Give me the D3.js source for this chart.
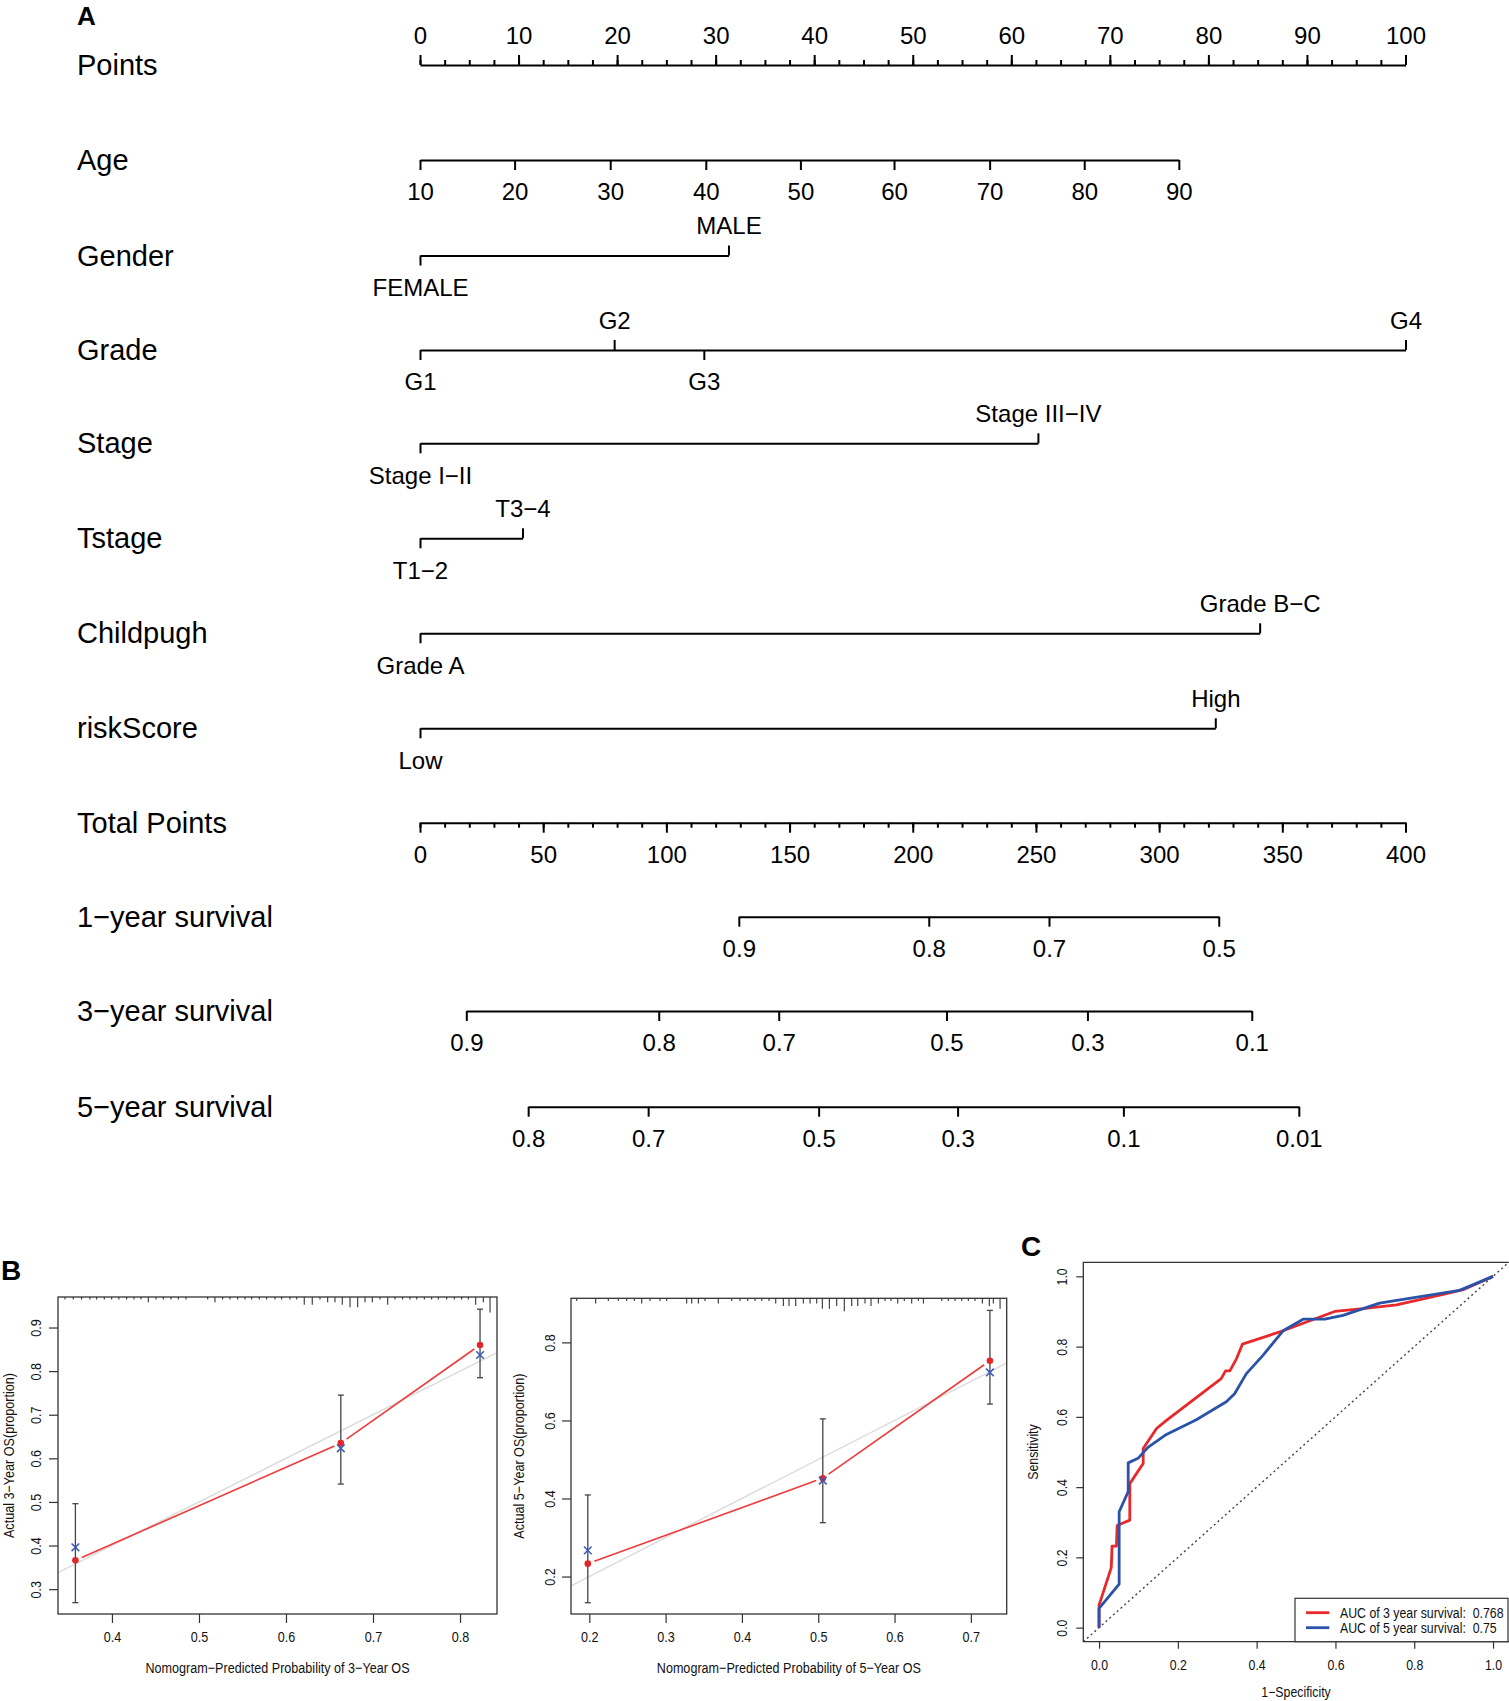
<!DOCTYPE html>
<html>
<head>
<meta charset="utf-8">
<script src="https://d3js.org/d3.v7.min.js"></script>
<style>
  body { margin: 0; background: #fff; }
  svg { font-family: "Liberation Sans", Arial, Helvetica, sans-serif; }
</style>
</head>
<body>
<div id="chart"></div>
<script>
// ---------- Panel A: nomogram data ----------
var rowNames = ["Points", "Age", "Gender", "Grade", "Stage", "Tstage", "Childpugh", "riskScore",
                "Total Points", "1\u2212year survival", "3\u2212year survival", "5\u2212year survival"];

var ageTicks  = [10, 20, 30, 40, 50, 60, 70, 80, 90];
var agePoints = [0, 9.6, 19.3, 29.0, 38.6, 48.1, 57.8, 67.4, 77.0];

var genderLevels = ["FEMALE", "MALE"];
var genderPoints = [0, 31.3];
var gradeLevels  = ["G1", "G2", "G3", "G4"];
var gradePoints  = [0, 19.7, 28.8, 100];
var stageLevels  = ["Stage I\u2212II", "Stage III\u2212IV"];
var stagePoints  = [0, 62.7];
var tstageLevels = ["T1\u22122", "T3\u22124"];
var tstagePoints = [0, 10.4];
var childLevels  = ["Grade A", "Grade B\u2212C"];
var childPoints  = [0, 85.2];
var riskLevels   = ["Low", "High"];
var riskPoints   = [0, 80.7];

var surv1Labels = ["0.9", "0.8", "0.7", "0.5"];
var surv1Total  = [129.4, 206.5, 255.3, 324.2];
var surv3Labels = ["0.9", "0.8", "0.7", "0.5", "0.3", "0.1"];
var surv3Total  = [18.8, 96.9, 145.6, 213.7, 270.9, 337.6];
var surv5Labels = ["0.8", "0.7", "0.5", "0.3", "0.1", "0.01"];
var surv5Total  = [43.9, 92.6, 161.8, 218.2, 285.5, 356.7];

// ---------- Panel B: calibration data ----------
var cal3Pred   = [0.358, 0.663, 0.823];
var cal3Obs    = [0.366, 0.635, 0.860];
var cal3Corr   = [0.396, 0.623, 0.837];
var cal3Lo     = [0.269, 0.541, 0.785];
var cal3Hi     = [0.496, 0.745, 0.942];
var rug3Pred   = [0.346, 0.3555, 0.3651, 0.3747, 0.3824, 0.3912, 0.3997, 0.408, 0.4169, 0.4253, 0.4333, 0.4418,
                  0.4506, 0.459, 0.4678, 0.4762, 0.4851, 0.51, 0.5184, 0.5272, 0.5356, 0.5445, 0.5529, 0.5606,
                  0.5693, 0.5778, 0.5874, 0.595, 0.6046, 0.6123, 0.621, 0.6302, 0.6391, 0.6479, 0.6563, 0.6647,
                  0.6736, 0.6824, 0.6908, 0.6992, 0.708, 0.7169, 0.7253, 0.7341, 0.7425, 0.7502, 0.759, 0.7674,
                  0.7751, 0.7847, 0.7934, 0.8019, 0.8095, 0.818, 0.8268, 0.8345];
var rug3Count  = [1, 1, 1, 1, 1, 1, 1, 1, 1, 1, 1, 2,
                  1, 1, 1, 1, 1, 1, 2, 1, 1, 1, 1, 1,
                  1, 1, 1, 1, 1, 1, 3, 3, 1, 2, 2, 3,
                  4, 4, 2, 2, 1, 3, 1, 1, 1, 1, 1, 1,
                  1, 1, 1, 1, 1, 3, 2, 6];

var cal5Pred   = [0.198, 0.506, 0.725];
var cal5Obs    = [0.233, 0.452, 0.753];
var cal5Corr   = [0.267, 0.446, 0.723];
var cal5Lo     = [0.133, 0.338, 0.642];
var cal5Hi     = [0.409, 0.604, 0.882];
var rug5Pred   = [0.1835, 0.2083, 0.2249, 0.238, 0.249, 0.259, 0.2687, 0.2796, 0.2927, 0.3014, 0.3276, 0.3342,
                  0.3429, 0.3516, 0.369, 0.3866, 0.3975, 0.4076, 0.4172, 0.426, 0.4355, 0.4443, 0.4543, 0.4617,
                  0.4705, 0.4805, 0.4893, 0.498, 0.5054, 0.5146, 0.5242, 0.5342, 0.5439, 0.5518, 0.5613, 0.5692,
                  0.5788, 0.5875, 0.5954, 0.6042, 0.6128, 0.6225, 0.6312, 0.6378, 0.6619, 0.6705, 0.6793, 0.6881,
                  0.6967, 0.7055, 0.7151, 0.7242, 0.7295, 0.7383];
var rug5Count  = [1, 2, 1, 1, 1, 1, 2, 1, 1, 1, 2, 2,
                  2, 1, 2, 1, 1, 1, 1, 1, 1, 2, 3, 3,
                  3, 2, 2, 2, 4, 4, 3, 5, 3, 3, 2, 3,
                  2, 1, 1, 2, 1, 2, 1, 2, 1, 1, 1, 1,
                  1, 1, 2, 3, 2, 4];

// ---------- Panel C: ROC data ----------
var fpr3 = [0, 0, 0.031, 0.033, 0.044, 0.046, 0.078, 0.078, 0.112, 0.112, 0.146, 0.171, 0.31, 0.321, 0.332,
            0.349, 0.364, 0.467, 0.598, 0.67, 0.755, 0.882, 0.924, 1];
var tpr3 = [0, 0.064, 0.171, 0.232, 0.232, 0.291, 0.306, 0.41, 0.467, 0.51, 0.567, 0.59, 0.709, 0.731, 0.731,
            0.766, 0.807, 0.845, 0.9, 0.908, 0.919, 0.951, 0.962, 1];
var fpr5 = [0, 0, 0.051, 0.051, 0.074, 0.074, 0.099, 0.124, 0.171, 0.247, 0.323, 0.344, 0.374, 0.416, 0.467,
            0.518, 0.573, 0.619, 0.712, 0.915, 1];
var tpr5 = [0, 0.055, 0.124, 0.33, 0.387, 0.469, 0.482, 0.513, 0.55, 0.592, 0.643, 0.666, 0.723, 0.775, 0.845,
            0.878, 0.878, 0.889, 0.924, 0.96, 1];
var aucLabels = ["AUC of 3 year survival:  0.768", "AUC of 5 year survival:  0.75"];

// ---------- setup ----------
var W = 1509, H = 1701;
var svg = d3.select("#chart").append("svg")
  .attr("width", W).attr("height", H)
  .style("display", "block");
svg.append("rect").attr("width", W).attr("height", H).attr("fill", "#fff");

// the lower panels use a horizontally squeezed font, like the source image
function squish(sel, sx) {
  sel.each(function() {
    var t = d3.select(this);
    var x = +t.attr("x") || 0, y = +t.attr("y") || 0;
    var pre = t.attr("transform") || "";
    t.attr("x", 0).attr("y", 0)
      .attr("transform", pre + " translate(" + x + "," + y + ") scale(" + sx + ",1)");
  });
}

// ---------- Panel A ----------
var rowY = [65, 160, 255.5, 350, 443.3, 538.3, 633.3, 728.3, 822.7, 916.7, 1011, 1106.7];
var xPts = d3.scaleLinear().domain([0, 100]).range([420, 1405.5]);
var xTot = d3.scaleLinear().domain([0, 400]).range([420, 1405.5]);

function styleNomo(g) {
  g.attr("font-size", null).attr("font-family", null);
  g.selectAll("text").attr("font-size", 24).attr("fill", "#000");
  g.selectAll("line, path").attr("stroke", "#000").attr("stroke-width", 2);
}

svg.append("text").attr("x", 77).attr("y", 16).attr("dy", "0.35em")
  .attr("font-size", 26).attr("font-weight", "bold").text("A");

svg.selectAll(".rowlab").data(rowNames).enter().append("text")
  .attr("class", "rowlab")
  .attr("x", 77)
  .attr("y", function(d, i) { return rowY[i]; })
  .attr("dy", "0.35em")
  .attr("font-size", 29)
  .text(function(d) { return d; });

// Points
var gP = svg.append("g").attr("transform", "translate(0," + rowY[0] + ")")
  .call(d3.axisTop(xPts).tickValues(d3.range(0, 101, 10)).tickSize(10).tickSizeOuter(0).tickPadding(11.4));
styleNomo(gP);
var gPm = svg.append("g").attr("transform", "translate(0," + rowY[0] + ")")
  .call(d3.axisTop(xPts).tickValues(d3.range(0, 100.1, 2.5)).tickSize(5).tickSizeOuter(0).tickFormat(""));
gPm.select(".domain").remove();
styleNomo(gPm);

// Age
var ageScale = d3.scaleLinear().domain(ageTicks).range(agePoints.map(function(p) { return xPts(p); }));
var gA = svg.append("g").attr("transform", "translate(0," + rowY[1] + ")")
  .call(d3.axisBottom(ageScale).tickValues(ageTicks).tickSize(10).tickSizeOuter(0).tickPadding(13.3));
styleNomo(gA);

// categorical rows: first level below the line, then alternating
function catRow(y, levels, pts) {
  var maxP = d3.max(pts);
  var sc = d3.scaleLinear().domain([0, maxP]).range([xPts(0), xPts(maxP)]);
  var lab = function(d) { return levels[pts.indexOf(d)]; };
  var below = pts.filter(function(p, i) { return i % 2 === 0; });
  var above = pts.filter(function(p, i) { return i % 2 === 1; });
  var gB = svg.append("g").attr("transform", "translate(0," + y + ")")
    .call(d3.axisBottom(sc).tickValues(below).tickFormat(lab).tickSize(10).tickSizeOuter(0).tickPadding(13.3));
  var gT = svg.append("g").attr("transform", "translate(0," + y + ")")
    .call(d3.axisTop(sc).tickValues(above).tickFormat(lab).tickSize(10).tickSizeOuter(0).tickPadding(11.4));
  gT.select(".domain").remove();
  styleNomo(gB); styleNomo(gT);
}
catRow(rowY[2], genderLevels, genderPoints);
catRow(rowY[3], gradeLevels, gradePoints);
catRow(rowY[4], stageLevels, stagePoints);
catRow(rowY[5], tstageLevels, tstagePoints);
catRow(rowY[6], childLevels, childPoints);
catRow(rowY[7], riskLevels, riskPoints);

// Total points
var gT1 = svg.append("g").attr("transform", "translate(0," + rowY[8] + ")")
  .call(d3.axisBottom(xTot).tickValues(d3.range(0, 401, 50)).tickSize(10).tickSizeOuter(0).tickPadding(13.3));
styleNomo(gT1);
var gT2 = svg.append("g").attr("transform", "translate(0," + rowY[8] + ")")
  .call(d3.axisBottom(xTot).tickValues(d3.range(0, 401, 10)).tickSize(5).tickSizeOuter(0).tickFormat(""));
gT2.select(".domain").remove();
styleNomo(gT2);

// survival rows
function survRow(y, labels, totals) {
  var ext = d3.extent(totals);
  var sc = d3.scaleLinear().domain(ext).range([xTot(ext[0]), xTot(ext[1])]);
  var g = svg.append("g").attr("transform", "translate(0," + y + ")")
    .call(d3.axisBottom(sc).tickValues(totals)
      .tickFormat(function(d) { return labels[totals.indexOf(d)]; })
      .tickSize(10).tickSizeOuter(0).tickPadding(13.3));
  styleNomo(g);
}
survRow(rowY[9], surv1Labels, surv1Total);
survRow(rowY[10], surv3Labels, surv3Total);
survRow(rowY[11], surv5Labels, surv5Total);

// ---------- Panel B ----------
svg.append("text").attr("x", 1).attr("y", 1270).attr("dy", "0.35em")
  .attr("font-size", 28).attr("font-weight", "bold").text("B");

var FS_B = 15, SX_B = 0.84;
var FS_C = 14.5, SX_C = 0.85;

function styleSmall(g, fs) {
  g.attr("font-size", null).attr("font-family", null);
  g.selectAll("text").attr("font-size", fs).attr("fill", "#111");
  g.selectAll("line").attr("stroke", "#333").attr("stroke-width", 1.2);
  g.select(".domain").remove();
}

function rotateLeftLabels(g, off) {
  g.selectAll(".tick text")
    .attr("x", 0).attr("y", -off).attr("dy", "0.35em")
    .attr("text-anchor", "middle")
    .attr("transform", "rotate(-90)");
}

function calPlot(cfg) {
  var x = d3.scaleLinear().domain(cfg.xDom).range([cfg.left, cfg.right]);
  var y = d3.scaleLinear().domain(cfg.yDom).range([cfg.bottom, cfg.top]);

  // ideal line
  var lo = Math.max(cfg.xDom[0], cfg.yDom[0]), hi = Math.min(cfg.xDom[1], cfg.yDom[1]);
  svg.append("line")
    .attr("x1", x(lo)).attr("y1", y(lo)).attr("x2", x(hi)).attr("y2", y(hi))
    .attr("stroke", "#dcdcdc").attr("stroke-width", 1.5);

  // rug of predicted values
  var rugH = d3.scaleLinear().domain([0, 6]).range([0, 15.5]);
  svg.append("g").selectAll("line").data(cfg.rug).enter().append("line")
    .attr("x1", function(d) { return x(d); }).attr("x2", function(d) { return x(d); })
    .attr("y1", cfg.top)
    .attr("y2", function(d, i) { return cfg.top + rugH(cfg.rugCount[i]); })
    .attr("stroke", "#333").attr("stroke-width", 1.1);

  // red observed line, broken around the points
  var gap = 7;
  var seg = svg.append("g");
  for (var i = 0; i < cfg.pred.length - 1; i++) {
    var x1 = x(cfg.pred[i]), y1 = y(cfg.obs[i]), x2 = x(cfg.pred[i + 1]), y2 = y(cfg.obs[i + 1]);
    var len = Math.hypot(x2 - x1, y2 - y1), ux = (x2 - x1) / len, uy = (y2 - y1) / len;
    seg.append("line")
      .attr("x1", x1 + ux * gap).attr("y1", y1 + uy * gap)
      .attr("x2", x2 - ux * gap).attr("y2", y2 - uy * gap)
      .attr("stroke", "#ef3b3b").attr("stroke-width", 1.6);
  }

  // error bars
  var eb = svg.append("g").attr("stroke", "#444").attr("stroke-width", 1.3);
  cfg.pred.forEach(function(p, i) {
    eb.append("line").attr("x1", x(p)).attr("x2", x(p)).attr("y1", y(cfg.lo[i])).attr("y2", y(cfg.hi[i]));
    eb.append("line").attr("x1", x(p) - 3).attr("x2", x(p) + 3).attr("y1", y(cfg.lo[i])).attr("y2", y(cfg.lo[i]));
    eb.append("line").attr("x1", x(p) - 3).attr("x2", x(p) + 3).attr("y1", y(cfg.hi[i])).attr("y2", y(cfg.hi[i]));
  });

  // points
  svg.append("g").selectAll("path").data(cfg.pred).enter().append("path")
    .attr("transform", function(d, i) { return "translate(" + x(d) + "," + y(cfg.obs[i]) + ")"; })
    .attr("d", d3.symbol(d3.symbolCircle, 34))
    .attr("fill", "#e3262b");
  svg.append("g").selectAll("path").data(cfg.pred).enter().append("path")
    .attr("transform", function(d, i) { return "translate(" + x(d) + "," + y(cfg.corr[i]) + ")"; })
    .attr("d", d3.symbol(d3.symbolTimes, 40))
    .attr("fill", "none").attr("stroke", "#3a5ab8").attr("stroke-width", 1.5);

  // box
  svg.append("rect")
    .attr("x", cfg.left).attr("y", cfg.top)
    .attr("width", cfg.right - cfg.left).attr("height", cfg.bottom - cfg.top)
    .attr("fill", "none").attr("stroke", "#333").attr("stroke-width", 1.3);

  // axes
  var gx = svg.append("g").attr("transform", "translate(0," + cfg.bottom + ")")
    .call(d3.axisBottom(x).tickValues(cfg.xTicks).tickFormat(d3.format(".1f")).tickSize(9).tickPadding(8.6));
  styleSmall(gx, FS_B);
  squish(gx.selectAll("text"), SX_B);
  var gy = svg.append("g").attr("transform", "translate(" + cfg.left + ",0)")
    .call(d3.axisLeft(y).tickValues(cfg.yTicks).tickFormat(d3.format(".1f")).tickSize(9));
  styleSmall(gy, FS_B);
  rotateLeftLabels(gy, cfg.left - cfg.yLabX);
  squish(gy.selectAll("text"), SX_B);

  var t1 = svg.append("text")
    .attr("x", (cfg.left + cfg.right) / 2).attr("y", cfg.xTitleY).attr("dy", "0.35em")
    .attr("text-anchor", "middle").attr("font-size", FS_B).attr("fill", "#111")
    .text(cfg.xTitle);
  var t2 = svg.append("text")
    .attr("transform", "translate(" + cfg.yTitleX + "," + (cfg.top + cfg.bottom) / 2 + ") rotate(-90)")
    .attr("dy", "0.35em")
    .attr("text-anchor", "middle").attr("font-size", FS_B).attr("fill", "#111")
    .text(cfg.yTitle);
  squish(t1, SX_B);
  squish(t2, SX_B);
}

calPlot({
  left: 58, right: 497, top: 1297, bottom: 1614,
  xDom: [0.338, 0.8425], yDom: [0.243, 0.970],
  xTicks: [0.4, 0.5, 0.6, 0.7, 0.8], yTicks: [0.3, 0.4, 0.5, 0.6, 0.7, 0.8, 0.9],
  pred: cal3Pred, obs: cal3Obs, corr: cal3Corr, lo: cal3Lo, hi: cal3Hi,
  rug: rug3Pred, rugCount: rug3Count,
  yLabX: 36, xTitleY: 1667.7, yTitleX: 9,
  xTitle: "Nomogram\u2212Predicted Probability of 3\u2212Year OS",
  yTitle: "Actual 3\u2212Year OS(proportion)"
});

calPlot({
  left: 571, right: 1006.7, top: 1298.3, bottom: 1614,
  xDom: [0.176, 0.747], yDom: [0.104, 0.913],
  xTicks: [0.2, 0.3, 0.4, 0.5, 0.6, 0.7], yTicks: [0.2, 0.4, 0.6, 0.8],
  pred: cal5Pred, obs: cal5Obs, corr: cal5Corr, lo: cal5Lo, hi: cal5Hi,
  rug: rug5Pred, rugCount: rug5Count,
  yLabX: 550, xTitleY: 1667.7, yTitleX: 519,
  xTitle: "Nomogram\u2212Predicted Probability of 5\u2212Year OS",
  yTitle: "Actual 5\u2212Year OS(proportion)"
});

// ---------- Panel C ----------
svg.append("text").attr("x", 1021).attr("y", 1246).attr("dy", "0.35em")
  .attr("font-size", 28).attr("font-weight", "bold").text("C");

var cL = 1083.3, cR = 1508.8, cT = 1262.3, cB = 1641.7;
var xC = d3.scaleLinear().domain([-0.04, 1.04]).range([cL, cR]);
var yC = d3.scaleLinear().domain([-0.04, 1.04]).range([cB, cT]);

svg.append("line")
  .attr("x1", xC(-0.04)).attr("y1", yC(-0.04)).attr("x2", xC(1.04)).attr("y2", yC(1.04))
  .attr("stroke", "#444").attr("stroke-width", 1.4).attr("stroke-dasharray", "2,3");

var rocLine = d3.line().x(function(d) { return xC(d[0]); }).y(function(d) { return yC(d[1]); });
var roc3 = d3.zip(fpr3, tpr3), roc5 = d3.zip(fpr5, tpr5);
var rocColors = ["#e8282b", "#2952a8"];
svg.append("path").datum(roc3).attr("d", rocLine)
  .attr("fill", "none").attr("stroke", rocColors[0]).attr("stroke-width", 2.8).attr("stroke-linejoin", "round");
svg.append("path").datum(roc5).attr("d", rocLine)
  .attr("fill", "none").attr("stroke", rocColors[1]).attr("stroke-width", 2.8).attr("stroke-linejoin", "round");

svg.append("path")
  .attr("d", "M" + cR + "," + cT + "H" + cL + "V" + cB + "H" + cR)
  .attr("fill", "none").attr("stroke", "#333").attr("stroke-width", 1.3);

var gxC = svg.append("g").attr("transform", "translate(0," + cB + ")")
  .call(d3.axisBottom(xC).tickValues([0, 0.2, 0.4, 0.6, 0.8, 1.0]).tickFormat(d3.format(".1f")).tickSize(7).tickPadding(11.1));
styleSmall(gxC, FS_C);
squish(gxC.selectAll("text"), SX_C);
var gyC = svg.append("g").attr("transform", "translate(" + cL + ",0)")
  .call(d3.axisLeft(yC).tickValues([0, 0.2, 0.4, 0.6, 0.8, 1.0]).tickFormat(d3.format(".1f")).tickSize(7));
styleSmall(gyC, FS_C);
rotateLeftLabels(gyC, cL - 1061.7);
squish(gyC.selectAll("text"), SX_C);

var tC1 = svg.append("text")
  .attr("x", (cL + cR) / 2).attr("y", 1692).attr("dy", "0.35em")
  .attr("text-anchor", "middle").attr("font-size", FS_C).attr("fill", "#111")
  .text("1\u2212Specificity");
var tC2 = svg.append("text")
  .attr("transform", "translate(1033," + (cT + cB) / 2 + ") rotate(-90)")
  .attr("dy", "0.35em")
  .attr("text-anchor", "middle").attr("font-size", FS_C).attr("fill", "#111")
  .text("Sensitivity");
squish(tC1, SX_C);
squish(tC2, SX_C);

// legend
var lg = svg.append("g");
lg.append("rect").attr("x", 1295).attr("y", 1598.3).attr("width", 213).attr("height", cB - 1598.3)
  .attr("fill", "#fff").attr("stroke", "#333").attr("stroke-width", 1.2);
var lgRows = lg.selectAll(".lr").data(aucLabels).enter().append("g")
  .attr("transform", function(d, i) { return "translate(0," + (1612.7 + i * 15) + ")"; });
lgRows.append("line").attr("x1", 1306).attr("x2", 1329.3)
  .attr("stroke", function(d, i) { return rocColors[i]; }).attr("stroke-width", 2.8);
var lgText = lgRows.append("text").attr("x", 1340).attr("dy", "0.35em")
  .attr("font-size", FS_C).attr("fill", "#111").style("white-space", "pre")
  .text(function(d) { return d; });
squish(lgText, SX_C);
</script>
</body>
</html>
